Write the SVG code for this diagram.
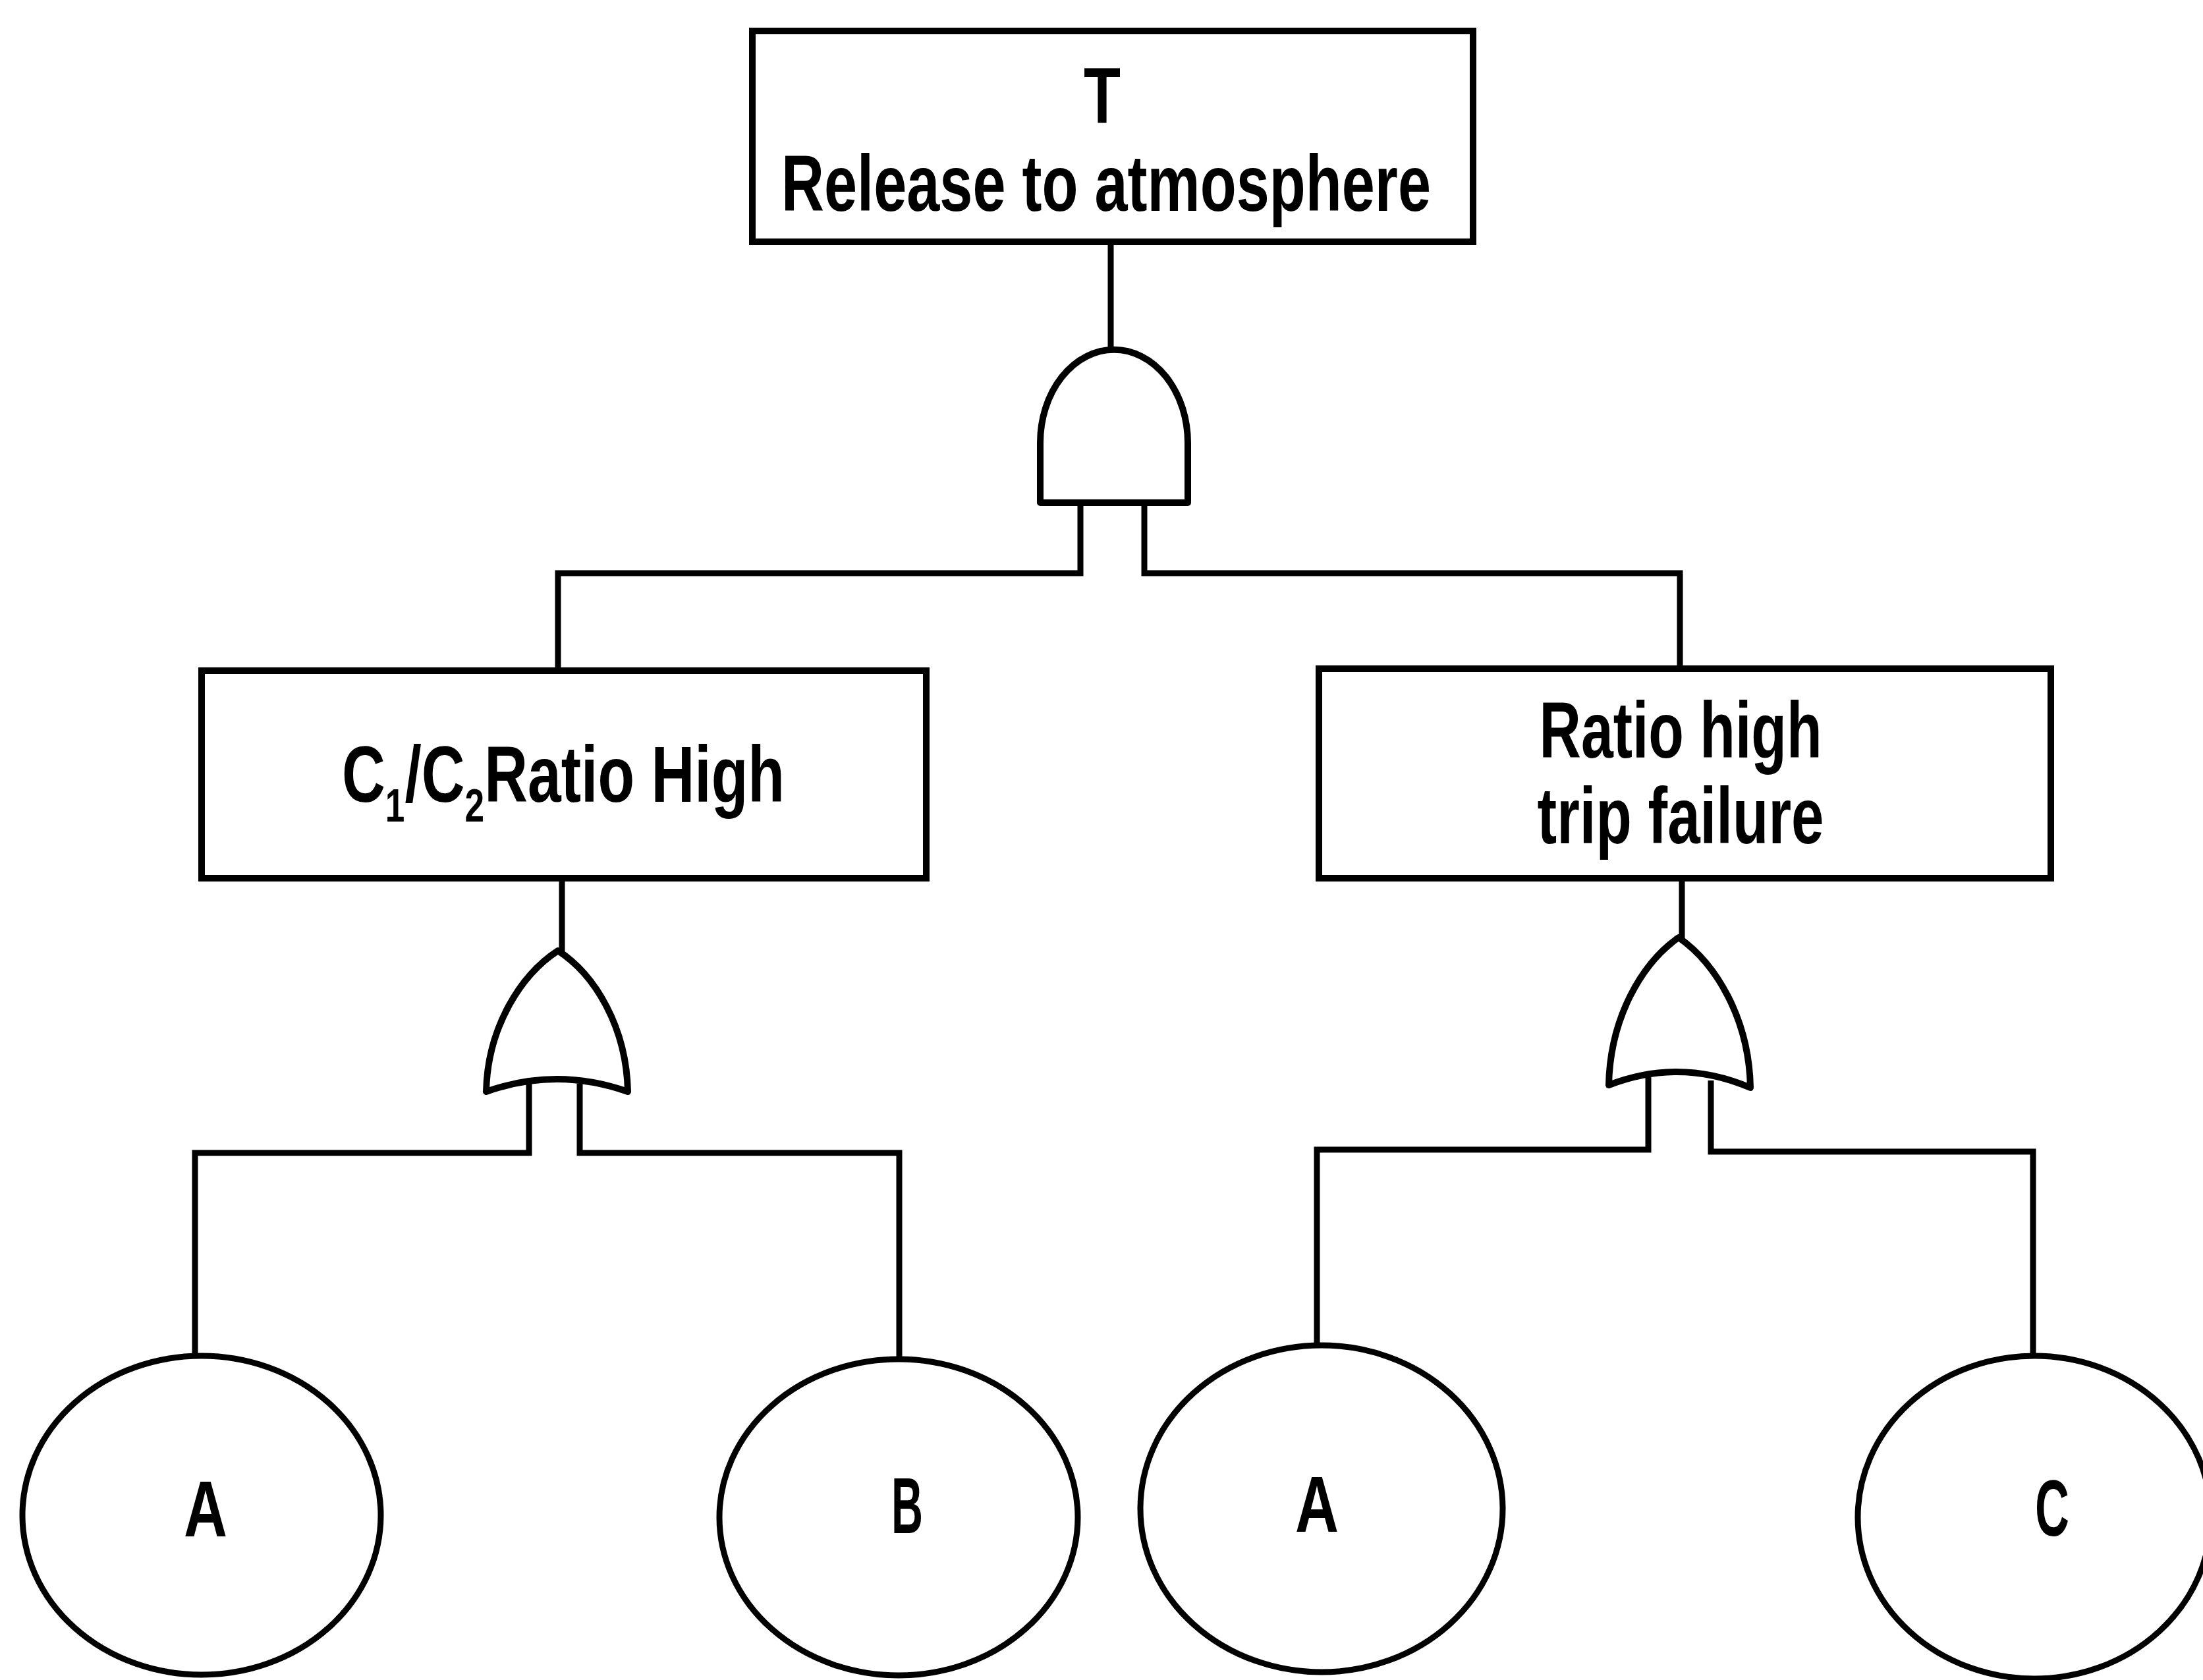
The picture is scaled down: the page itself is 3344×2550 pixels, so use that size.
<svg xmlns="http://www.w3.org/2000/svg" width="3344" height="2550" viewBox="0 0 3344 2550">
<style>
.box{fill:#fff;stroke:#000;stroke-width:10}
.gate{fill:#fff;stroke:#000;stroke-width:10;stroke-linejoin:round}
.ev{fill:#fff;stroke:#000;stroke-width:9}
.ln{fill:none;stroke:#000;stroke-width:9;stroke-linejoin:miter}
.t{font-family:"Liberation Sans",Arial,sans-serif;font-weight:bold;font-size:120px;fill:#000}
.sub{font-size:70px}
</style>
<rect width="3344" height="2550" fill="#fff"/>
<g id="connectors">
<path class="ln" d="M1686,370 V532"/>
<path class="ln" d="M1640,763 V870 H847 V1018"/>
<path class="ln" d="M1737,763 V870 H2550 V1015"/>
<path class="ln" d="M853,1333 V1445"/>
<path class="ln" d="M803,1645 V1750 H296 V2060"/>
<path class="ln" d="M880,1645 V1750 H1365 V2065"/>
<path class="ln" d="M2553,1333 V1425"/>
<path class="ln" d="M2502,1635 V1745 H1999 V2043"/>
<path class="ln" d="M2597,1640 V1748 H3086 V2060"/>
</g>
<g id="top-event">
<rect class="box" x="1142" y="47" width="1094" height="320"/>
<text class="t" x="1673" y="187" text-anchor="middle" textLength="56" lengthAdjust="spacingAndGlyphs">T</text>
<text class="t" x="1679" y="320" text-anchor="middle" textLength="986" lengthAdjust="spacingAndGlyphs">Release to atmosphere</text>
</g>
<g id="and-gate">
<path class="gate" d="M1579,763 L1579,672 A111,140 0 0 1 1803,672 L1803,763 Z"/>
</g>
<g id="ratio-high">
<rect class="box" x="306" y="1018" width="1100" height="315"/>
<text class="t" transform="translate(855,1217) scale(0.76,1)" x="0" y="0" text-anchor="middle">C<tspan class="sub" dy="30">1</tspan><tspan dy="-30">/C</tspan><tspan class="sub" dy="30">2</tspan><tspan dy="-30">Ratio High</tspan></text>
</g>
<g id="trip-failure">
<rect class="box" x="2002" y="1015" width="1111" height="318"/>
<text class="t" x="2551" y="1150" text-anchor="middle" textLength="429" lengthAdjust="spacingAndGlyphs">Ratio high</text>
<text class="t" x="2551" y="1280" text-anchor="middle" textLength="435" lengthAdjust="spacingAndGlyphs">trip failure</text>
</g>
<g id="or-gate-left">
<path class="gate" d="M738,1657 C740,1560 790,1480 847,1443 C904,1480 951,1560 953,1657 Q845,1619 738,1657 Z"/>
</g>
<g id="or-gate-right">
<path class="gate" d="M2442,1647 C2444,1545 2492,1462 2548,1423 C2604,1462 2655,1545 2657,1651 Q2550,1605 2442,1647 Z"/>
</g>
<g id="event-a1">
<ellipse class="ev" cx="306" cy="2300" rx="272" ry="242"/>
<text class="t" x="312" y="2332" text-anchor="middle" textLength="66" lengthAdjust="spacingAndGlyphs">A</text>
</g>
<g id="event-b">
<ellipse class="ev" cx="1364" cy="2303" rx="272" ry="240"/>
<text class="t" x="1377" y="2327" text-anchor="middle" textLength="48" lengthAdjust="spacingAndGlyphs">B</text>
</g>
<g id="event-a2">
<ellipse class="ev" cx="2006" cy="2290" rx="275" ry="248"/>
<text class="t" x="1999" y="2325" text-anchor="middle" textLength="66" lengthAdjust="spacingAndGlyphs">A</text>
</g>
<g id="event-c">
<ellipse class="ev" cx="3088" cy="2303" rx="268" ry="245"/>
<text class="t" x="3115" y="2331" text-anchor="middle" textLength="52" lengthAdjust="spacingAndGlyphs">C</text>
</g>
</svg>
